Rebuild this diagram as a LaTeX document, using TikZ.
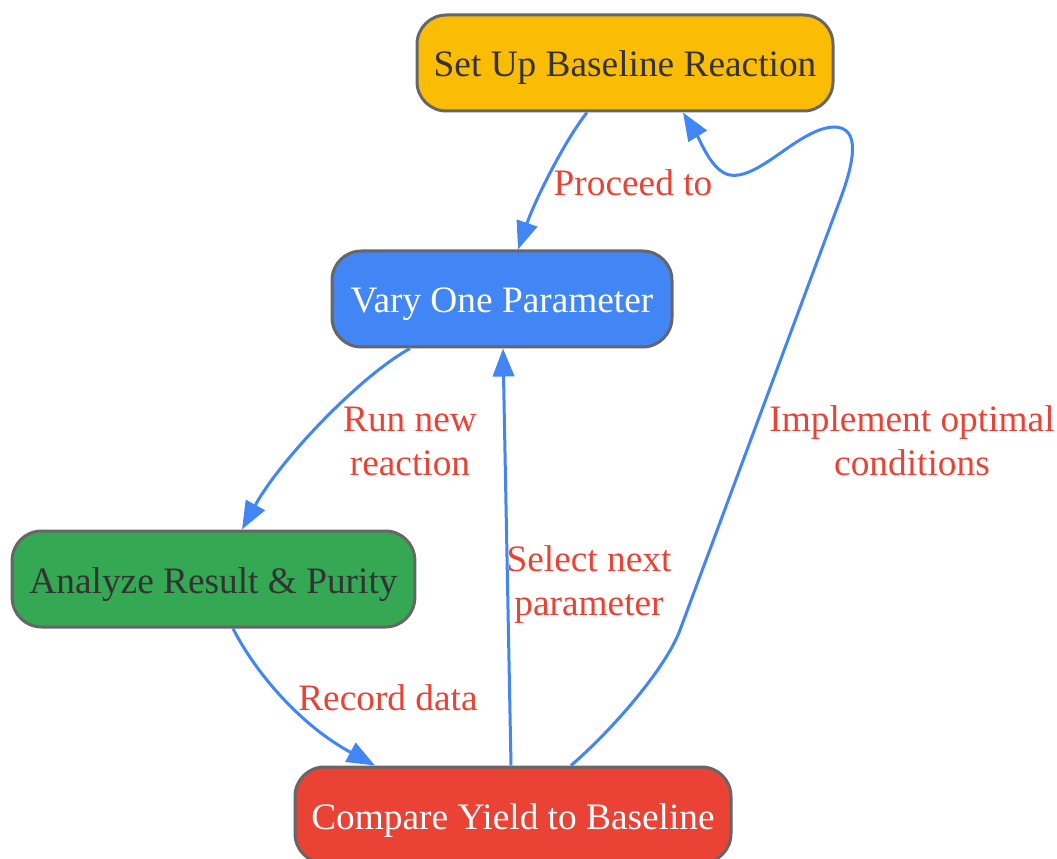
\documentclass[tikz,border=0pt]{standalone}
\usepackage{fontspec}
\setmainfont{Liberation Serif}
\usetikzlibrary{arrows.meta,calc}

\definecolor{stepyellow}{HTML}{FBBC04}
\definecolor{stepblue}{HTML}{4285F4}
\definecolor{stepgreen}{HTML}{34A853}
\definecolor{stepred}{HTML}{EA4335}
\definecolor{stepborder}{HTML}{666666}
\definecolor{steptext}{HTML}{333333}

\begin{document}
\begin{tikzpicture}[x=0.75pt, y=-0.75pt, >={Triangle[length=21pt, width=16pt]},
    every step/.style={draw=stepborder, line width=2.25pt, rounded corners=22pt,
        minimum height=72pt, inner sep=0pt, text height=21pt, text depth=0pt,
        font=\fontsize{28}{33}\selectfont},
    flow/.style={->, draw=stepblue, line width=2.25pt},
    flow label/.style={text=stepred, align=center, font=\fontsize{28}{33}\selectfont}]

        \useasboundingbox (0,0) rectangle (1057,859);

        % steps
        \node [every step/.try, fill=stepyellow, text=steptext, minimum width=312pt] (setup) at (625,63) {Set Up Baseline Reaction};
        \node [every step/.try, fill=stepblue, text=white, minimum width=255pt] (vary) at (502,299) {Vary One Parameter};
        \node [every step/.try, fill=stepgreen, text=steptext, minimum width=302pt] (analyze) at (213.5,579) {Analyze Result \& Purity};
        \node [every step/.try, fill=stepred, text=white, minimum width=327pt] (compare) at (513,815) {Compare Yield to Baseline};

        % connectors
        \draw [flow] ($(setup.south)+(-38,0)$) .. controls (565,140) and (535,200) .. ($(vary.north)+(16,0)$);
        \draw [flow] ($(vary.south)+(-92,0)$) .. controls (360,376) and (280,460) .. ($(analyze.north)+(28.5,0)$);
        \draw [flow] ($(analyze.south)+(19.5,0)$) .. controls (255,672) and (300,725) .. ($(compare.north)+(-138,0)$);
        \draw [flow] ($(compare.north)+(-2,0)$) -- ($(vary.south)+(1,0)$);
        \draw [flow] ($(compare.north)+(58,0)$) .. controls (610,732) and (665,670) .. (680,630)
            -- (840,200) .. controls (855,160) and (860,128) .. (835,127)
            .. controls (800,127) and (760,180) .. (730,175)
            .. controls (712,172) and (700,140) .. ($(setup.south)+(58,0)$);

        % labels
        \node [flow label] (proceed) at (633,183) {Proceed to};
        \node [flow label] (run) at (410,441) {Run new\\reaction};
        \node [flow label] (record) at (388,698) {Record data};
        \node [flow label] (select) at (589,585) {Select next\\parameter};
        \node [flow label] (implement) at (912,441) {Implement optimal\\conditions};

    \end{tikzpicture}
\end{document}
